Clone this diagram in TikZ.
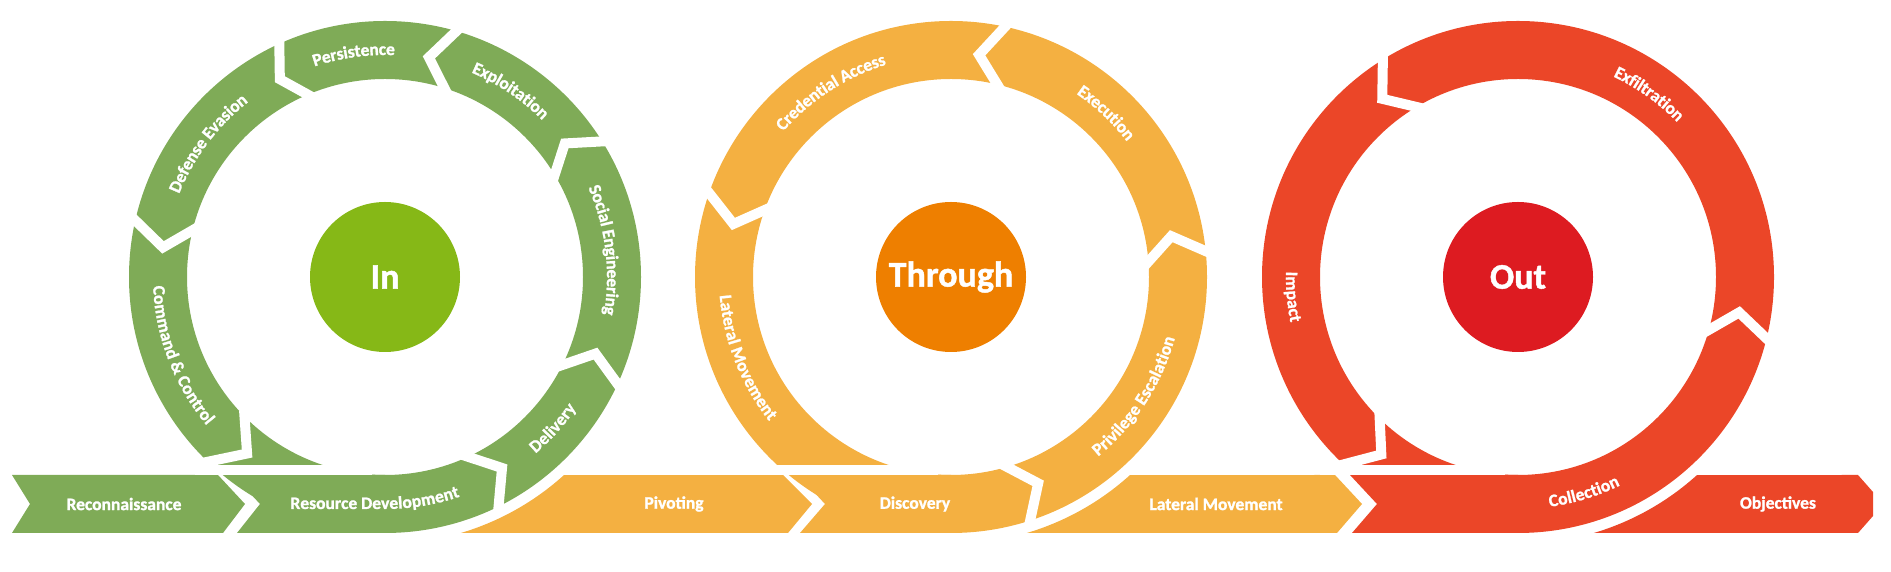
\documentclass[tikz,border=0pt]{standalone}
\usepackage{fontspec}
\setmainfont{Carlito}[BoldFeatures={FakeBold=1.3}]
\usetikzlibrary{decorations.text}
\definecolor{gring}{HTML}{7FAB57}
\definecolor{gcore}{HTML}{86B817}
\definecolor{oring}{HTML}{F4B041}
\definecolor{ocore}{HTML}{EE7F00}
\definecolor{rring}{HTML}{EB4628}
\definecolor{rcore}{HTML}{DD1B21}
\newcommand\lblfont{\bfseries\fontsize{17.5}{20}\selectfont}
\newcommand\gapcut[3]{\draw[cut] (#1:194) -- (#2:224) -- (#3:260);}
\newcommand\ccwtext[2]{\path[ringtext={#2}] ({#1-45}:227) arc[start angle={#1-45}, end angle={#1+45}, radius=227];}
\newcommand\cwtext[2]{\path[ringtext={#2}] ({#1+45}:227) arc[start angle={#1+45}, end angle={#1-45}, radius=227];}
\begin{document}
\begin{tikzpicture}[x=1pt,y=1pt]
\tikzset{
 cut/.style={draw=white, line width=10pt, line join=miter, miter limit=20},
 core/.style={circle, minimum size=150pt, inner sep=0pt, text=white, font=\bfseries\fontsize{36}{42}\selectfont},
 bandlabel/.style={text=white, font=\lblfont, inner sep=0pt},
 ringtext/.style={decorate, decoration={text along path, text={|\lblfont|#1}, text color=white, text align=center, raise=-5pt}},
}
\useasboundingbox (0,0) rectangle (1891,572);

% ---------- bands ----------
% Pivoting
\fill[oring] (460.85,39) arc[start angle=-73.47, end angle=-47.87, radius=267] -- (783,97) -- (812,68) -- (788,39) -- cycle;
% Discovery (band part)
\fill[oring] (798,97) -- (951,97) -- (951,39) -- (800,39) -- (825,68) -- cycle;
% Reconnaissance
\fill[gring] (12,97) -- (218,97) -- (245,68) -- (223,39) -- (12,39) -- (30,68) -- cycle;
% Resource Development (band part)
\fill[gring] (233,97) -- (385,97) -- (385,39) -- (237,39) -- (260,68) -- cycle;
% Lateral Movement (band)
\fill[oring] (1026.85,39) arc[start angle=-73.47, end angle=-47.87, radius=267] -- (1335,97) -- (1362,68) -- (1337,39) -- cycle;
% Collection (band part)
\fill[rring] (1350,97) -- (1518,97) -- (1518,39) -- (1352,39) -- (1377,68) -- cycle;
% Objectives
\fill[rring] (1593.85,39) arc[start angle=-73.47, end angle=-47.87, radius=267] -- (1858,97) -- (1873,80) -- (1873,56) -- (1858,39) -- cycle;

% ---------- rings ----------
\fill[gring, even odd rule] (385,295) circle[radius=256] circle[radius=198];
\fill[oring, even odd rule] (951,295) circle[radius=256] circle[radius=198];
\fill[rring, even odd rule] (1518,295) circle[radius=256] circle[radius=198];

% horizontal cuts between ring tails and bands
\fill[white] (195,97) rectangle (372,107);
\fill[white] (740,97) rectangle (938,107);
\fill[white] (1320,97) rectangle (1505,107);

% chevron gaps
\begin{scope}[shift={(385,295)}]
 \gapcut{-66.5}{-58.5}{-64.2}
 \gapcut{-27.6}{-20}{-25.2}
 \gapcut{30}{36.6}{31.5}
 \gapcut{71.4}{78.7}{73.3}
 \gapcut{112}{118}{114}
 \gapcut{165.2}{172.4}{166.7}
 \gapcut{223.4}{232}{225.6}
\end{scope}
\begin{scope}[shift={(951,295)}]
 \gapcut{-74.8}{-67.1}{-72.5}
 \gapcut{3.3}{10.5}{5.3}
 \gapcut{75.3}{82.8}{77.3}
 \gapcut{159.1}{166.3}{160.3}
\end{scope}
\begin{scope}[shift={(1518,295)}]
 \gapcut{-16.7}{-9.1}{-14.4}
 \gapcut{119.6}{127.3}{121.3}
 \gapcut{224.4}{232.4}{226.5}
\end{scope}

% ---------- cores ----------
\node[core, fill=gcore] (incore) at (385,295) {In};
\node[core, fill=ocore] (throughcore) at (951,295) {Through};
\node[core, fill=rcore] (outcore) at (1518,295) {Out};

% ---------- band labels ----------
\node[bandlabel] (recon) at (124,68) {Reconnaissance};
\node[bandlabel] (pivot) at (674,68) {Pivoting};
\node[bandlabel] (disc) at (915,68) {Discovery};
\node[bandlabel] (latband) at (1216,68) {Lateral Movement};
\node[bandlabel] (objec) at (1778,68) {Objectives};

% ---------- ring labels ----------
\path[ringtext={Resource Development}] (286,68) -- (385,68) arc[start angle=-90, end angle=-70, radius=227];
\begin{scope}[shift={(385,295)}]
 \ccwtext{-42}{Delivery}
 \cwtext{7}{Social Engineering}
 \cwtext{56}{Exploitation}
 \cwtext{98}{Persistence}
 \cwtext{143}{Defense Evasion}
 \ccwtext{201}{Command {\&} Control}
\end{scope}
\begin{scope}[shift={(951,295)}]
 \ccwtext{-33}{Privilege Escalation}
 \cwtext{46.6}{Execution}
 \cwtext{123}{Credential Access}
 \ccwtext{201.5}{Lateral Movement}
\end{scope}
\begin{scope}[shift={(1518,295)}]
 \ccwtext{-73}{Collection}
 \cwtext{54.4}{Exfiltration}
 \ccwtext{185}{Impact}
\end{scope}
\end{tikzpicture}
\end{document}
